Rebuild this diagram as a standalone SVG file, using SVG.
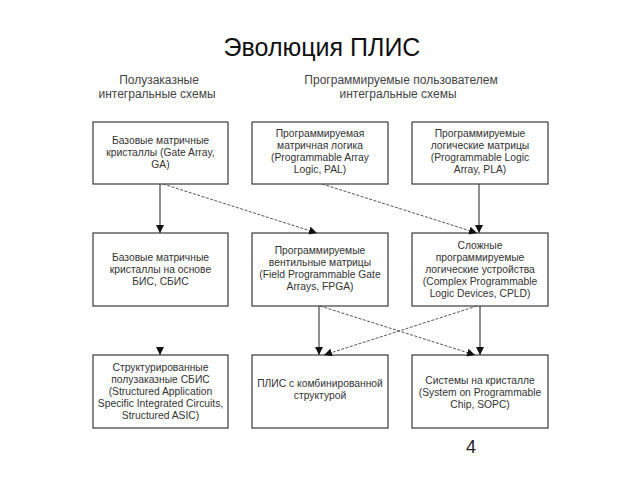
<svg xmlns="http://www.w3.org/2000/svg" width="640" height="480" viewBox="0 0 640 480">
<defs>
<style>
.box{fill:#fff;stroke:#3a3a3a;stroke-width:1.2}
.t{font-family:"Liberation Sans",Arial,sans-serif;font-size:10.3px;fill:#333;text-anchor:middle}
.h{font-family:"Liberation Sans",Arial,sans-serif;font-size:12px;fill:#444;text-anchor:middle}
.solid{stroke:#444;stroke-width:1.2;fill:none}
.dash{stroke:#555;stroke-width:1;stroke-dasharray:3,1.5;fill:none}
</style>
<marker id="ah" viewBox="0 0 10 10" refX="10" refY="5" markerWidth="8" markerHeight="8" markerUnits="userSpaceOnUse" orient="auto">
<path d="M0,0 L10,5 L0,10 Z" fill="#111"/>
</marker>
</defs>
<rect width="640" height="480" fill="#fff"/>
<text x="322" y="56" font-family="Liberation Sans,Arial,sans-serif" font-size="25" fill="#111" text-anchor="middle">Эволюция ПЛИС</text>
<text class="h" x="159" y="83.5">Полузаказные</text>
<text class="h" x="157" y="97.5">интегральные схемы</text>
<text class="h" x="401" y="83.5">Программируемые пользователем</text>
<text class="h" x="398" y="97.5">интегральные схемы</text>

<g id="n1"><rect class="box" x="93" y="122" width="135" height="62"/>
<text class="t" x="160.5" y="144">Базовые матричные</text><text class="t" x="160.5" y="156">кристаллы (Gate Array,</text><text class="t" x="160.5" y="168">GA)</text></g>
<g id="n2"><rect class="box" x="252" y="122" width="136" height="62"/>
<text class="t" x="320" y="137">Программируемая</text><text class="t" x="320" y="149">матричная логика</text><text class="t" x="320" y="161">(Programmable Array</text><text class="t" x="320" y="173">Logic, PAL)</text></g>
<g id="n3"><rect class="box" x="412" y="122" width="136" height="62"/>
<text class="t" x="480" y="137">Программируемые</text><text class="t" x="480" y="149">логические матрицы</text><text class="t" x="480" y="161">(Programmable Logic</text><text class="t" x="480" y="173">Array, PLA)</text></g>

<g id="n4"><rect class="box" x="93" y="233" width="135" height="73"/>
<text class="t" x="160.5" y="261">Базовые матричные</text><text class="t" x="160.5" y="273">кристаллы на основе</text><text class="t" x="160.5" y="285">БИС, СБИС</text></g>
<g id="n5"><rect class="box" x="252" y="233" width="136" height="73"/>
<text class="t" x="320" y="254">Программируемые</text><text class="t" x="320" y="266">вентильные матрицы</text><text class="t" x="320" y="278">(Field Programmable Gate</text><text class="t" x="320" y="290">Arrays, FPGA)</text></g>
<g id="n6"><rect class="box" x="412" y="233" width="136" height="73"/>
<text class="t" x="480" y="249">Сложные</text><text class="t" x="480" y="261">программируемые</text><text class="t" x="480" y="273">логические устройства</text><text class="t" x="480" y="285">(Complex Programmable</text><text class="t" x="480" y="297">Logic Devices, CPLD)</text></g>

<g id="n7"><rect class="box" x="93" y="355" width="135" height="73"/>
<text class="t" x="160.5" y="371">Структурированные</text><text class="t" x="160.5" y="383">полузаказные  СБИС</text><text class="t" x="160.5" y="395">(Structured Application</text><text class="t" x="160.5" y="407">Specific Integrated Circuits,</text><text class="t" x="160.5" y="419">Structured ASIC)</text></g>
<g id="n8"><rect class="box" x="252" y="355" width="136" height="73"/>
<text class="t" x="320" y="387">ПЛИС с комбинированной</text><text class="t" x="320" y="399">структурой</text></g>
<g id="n9"><rect class="box" x="412" y="355" width="136" height="73"/>
<text class="t" x="480" y="384">Системы на кристалле</text><text class="t" x="480" y="396">(System on Programmable</text><text class="t" x="480" y="408">Chip, SOPC)</text></g>

<g id="connectors">
<line class="solid" x1="160" y1="184" x2="160" y2="233" marker-end="url(#ah)"/>
<line class="dash" x1="163" y1="184" x2="317" y2="233" marker-end="url(#ah)"/>
<line class="dash" x1="322" y1="184" x2="477" y2="233" marker-end="url(#ah)"/>
<line class="solid" x1="479" y1="184" x2="479" y2="233" marker-end="url(#ah)"/>
<line class="solid" x1="160" y1="347" x2="160" y2="355" marker-end="url(#ah)"/>
<line class="solid" x1="319" y1="306" x2="319" y2="355" marker-end="url(#ah)"/>
<line class="dash" x1="320" y1="306" x2="475" y2="355" marker-end="url(#ah)"/>
<line class="dash" x1="477" y1="306" x2="324" y2="355" marker-end="url(#ah)"/>
<line class="solid" x1="480" y1="306" x2="480" y2="355" marker-end="url(#ah)"/>
</g>
<text x="466" y="453" font-family="Liberation Sans,Arial,sans-serif" font-size="18" fill="#222">4</text>
</svg>
